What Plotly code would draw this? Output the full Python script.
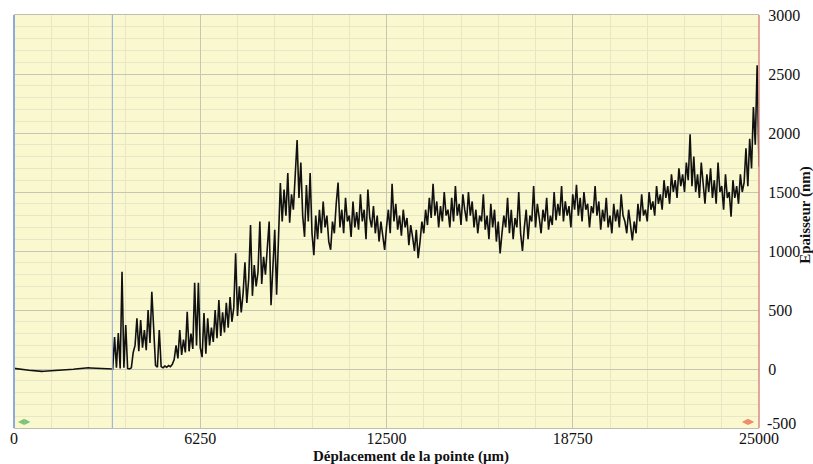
import numpy as np
import plotly.graph_objects as go

# ---- data ----
x_ticks = [0, 6250, 12500, 18750, 25000]
y_ticks = [-500, 0, 500, 1000, 1500, 2000, 2500, 3000]
cursor_um = 3300

baseline_nm = [5, 4, 3, 2, 0, -2, -5, -8, -10, -12, -14, -15, -17, -18, -20,
               -20, -19, -18, -18, -17, -20, -16, -15, -15, -14, -12, -10, -8,
               -6, -5, -4, -3, -2, 0, 2, 4, 6, 8, 9, 10, 10, 9, 8, 8, 7, 6, 5,
               5, 4, 3, 3, 2, 2]

onset_nm = [0, 270, 10, 305, 5, 825, 10, 373, 5, 0, 10, 140, 200, 430, 150,
            415, 180, 330, 160, 500, 220, 655, 330, 30, 15, 330, 20, 10, 25,
            15, 30, 20, 40, 80, 200, 90, 330, 120, 250, 140, 485, 150, 300,
            170, 730, 200, 730, 180, 100, 475, 130, 430, 200, 350, 230, 500,
            260, 585]

rise_nm = [280, 480, 310, 560, 350, 610, 400, 520, 980, 450, 700, 480, 640,
           905, 560, 760, 1220, 620, 880, 700, 820, 1250, 720, 950, 800, 1050,
           1250, 540, 900, 1180, 630, 1100, 1575,
           1250, 1520, 1300, 1660, 1240, 1480, 1350, 1700, 1940, 1450, 1750,
           1300, 1120, 1560, 1250, 1660, 1150, 965, 1300, 1100]

plateau_nm = [1350, 1150, 1420, 1200, 1300, 1080, 1010, 1250, 1150, 1400,
              1580, 1200, 1350, 1150, 1450, 1250, 1300, 1120, 1420, 1200,
              1330, 1180, 1480, 1250, 1350, 1100, 1520, 1280, 1200, 1380,
              1150, 1300, 1080, 1250, 1120, 1010, 1200, 1350, 1150, 1570,
              1250, 1400, 1180, 1300, 1130, 1350, 1200, 1280, 1050, 1220,
              1120, 1000, 1180, 940, 1080, 1250, 1150, 1350, 1220, 1450,
              1280, 1570, 1300, 1420, 1200, 1380, 1250, 1500, 1300, 1350,
              1200, 1450, 1250, 1550, 1300, 1400, 1220, 1480, 1350, 1250,
              1500, 1300, 1420, 1200, 1350, 1150, 1300, 1250, 1480, 1180,
              1300, 1100, 1400, 1200, 1350, 1080, 1250, 980, 1150, 1300,
              1200, 1450, 1150, 1350, 1100, 1280, 1200, 1500, 1150, 1000,
              1200, 1350, 1100, 1300, 1250, 1550, 1200, 1400, 1280, 1150,
              1350, 1250, 1450, 1180, 1300, 1220, 1500, 1260, 1400, 1300,
              1550, 1250, 1420, 1300, 1380, 1200, 1480, 1350, 1560, 1300,
              1450, 1250, 1500, 1350, 1400, 1200, 1380, 1320, 1550, 1300,
              1420, 1180, 1350, 1250, 1450, 1200, 1300, 1150, 1400, 1250,
              1350, 1200, 1480, 1300, 1250, 1150, 1350, 1200, 1090, 1250,
              1150, 1400, 1250, 1480, 1300, 1350, 1250, 1500, 1350, 1420,
              1300, 1550, 1400, 1480, 1350, 1600, 1450, 1550, 1400, 1650,
              1500, 1600, 1450, 1700, 1550, 1650, 1500, 1750, 1600, 1990,
              1550, 1800, 1500, 1650, 1450, 1750, 1550, 1400, 1650, 1500,
              1700, 1450, 1600, 1400, 1750, 1500, 1550, 1350, 1650, 1450,
              1500, 1290, 1600, 1450, 1550, 1400, 1650, 1500, 1580, 1870,
              1550, 1950, 1700, 2220, 1900, 2575, 1715]

thickness_nm = baseline_nm + onset_nm + rise_nm + plateau_nm
position_um = np.linspace(0, 25000, len(thickness_nm))

SERIF = "Liberation Serif, Times New Roman, serif"
BG = "#FAF8CE"
MAJOR = "#C6C6B4"
MINOR = "#E8E6C4"

fig = go.Figure()
fig.add_trace(go.Scatter(
    x=position_um, y=thickness_nm, mode="lines",
    line=dict(color="#111111", width=1.6), showlegend=False,
    hoverinfo="skip"))

# the bottom y label sits slightly above its grid line in the reference
y_ticktext = ["" if v == y_ticks[0] else str(v) for v in y_ticks]

fig.update_layout(
    width=813, height=464,
    margin=dict(l=14, r=54, t=15, b=36),
    paper_bgcolor="white", plot_bgcolor=BG,
    font=dict(family=SERIF, size=16, color="#111111"),
    xaxis=dict(
        range=[0, 25000], tickmode="array", tickvals=x_ticks,
        ticktext=[str(v) for v in x_ticks],
        showgrid=True, gridcolor=MAJOR, gridwidth=1,
        minor=dict(dtick=1250, tick0=0, showgrid=True, gridcolor=MINOR, gridwidth=1),
        showline=True, linecolor="#BDBDB0", linewidth=1, mirror=True,
        zeroline=False, ticks="outside", ticklen=0,
        ticklabelposition="outside", ticklabelstandoff=-4,
        tickfont=dict(family=SERIF, size=16),
        automargin=False,
    ),
    yaxis=dict(
        side="right", range=[-500, 3000], tickmode="array", tickvals=y_ticks,
        ticktext=y_ticktext,
        showgrid=True, gridcolor=MAJOR, gridwidth=1,
        minor=dict(dtick=100, tick0=0, showgrid=True, gridcolor=MINOR, gridwidth=1),
        showline=False, zeroline=False, ticks="outside", ticklen=5,
        tickcolor="rgba(0,0,0,0)", tickfont=dict(family=SERIF, size=16),
        automargin=False,
    ),
    shapes=[
        dict(type="line", xref="x", yref="paper", x0=cursor_um, x1=cursor_um,
             y0=0, y1=1, line=dict(color="#8FAAD8", width=1)),
        dict(type="line", xref="paper", yref="paper", x0=0, x1=0, y0=0, y1=1,
             line=dict(color="#8FAAD8", width=2)),
        dict(type="line", xref="paper", yref="paper", x0=1, x1=1, y0=0, y1=1,
             line=dict(color="#D98A80", width=1.5)),
    ],
    annotations=[
        dict(text=str(y_ticks[0]), xref="paper", yref="y", x=1, y=y_ticks[0],
             xanchor="left", yanchor="middle", xshift=6, yshift=5,
             showarrow=False, font=dict(family=SERIF, size=16, color="#111111")),
        dict(text="<b>Déplacement de la pointe (µm)</b>", xref="paper", yref="paper",
             x=0.533, y=-0.07, xanchor="center", yanchor="middle",
             showarrow=False, font=dict(family=SERIF, size=15, color="#111111")),
        dict(text="<b>Epaisseur (nm)</b>", xref="paper", yref="paper",
             x=1.063, y=0.516, xanchor="center", yanchor="middle", textangle=-90,
             showarrow=False, font=dict(family=SERIF, size=15, color="#111111")),
        dict(text="◀▶", xref="paper", yref="paper", x=0.003, y=0.015,
             xanchor="left", yanchor="middle", showarrow=False,
             font=dict(size=8, color="#7DC47A")),
        dict(text="◀▶", xref="paper", yref="paper", x=0.997, y=0.015,
             xanchor="right", yanchor="middle", showarrow=False,
             font=dict(size=8, color="#F08A6A")),
    ],
)

fig.write_html(
    "out.html",
    config={"displayModeBar": False},
    post_script="document.body.style.margin='0px';document.body.style.overflow='hidden';",
)
